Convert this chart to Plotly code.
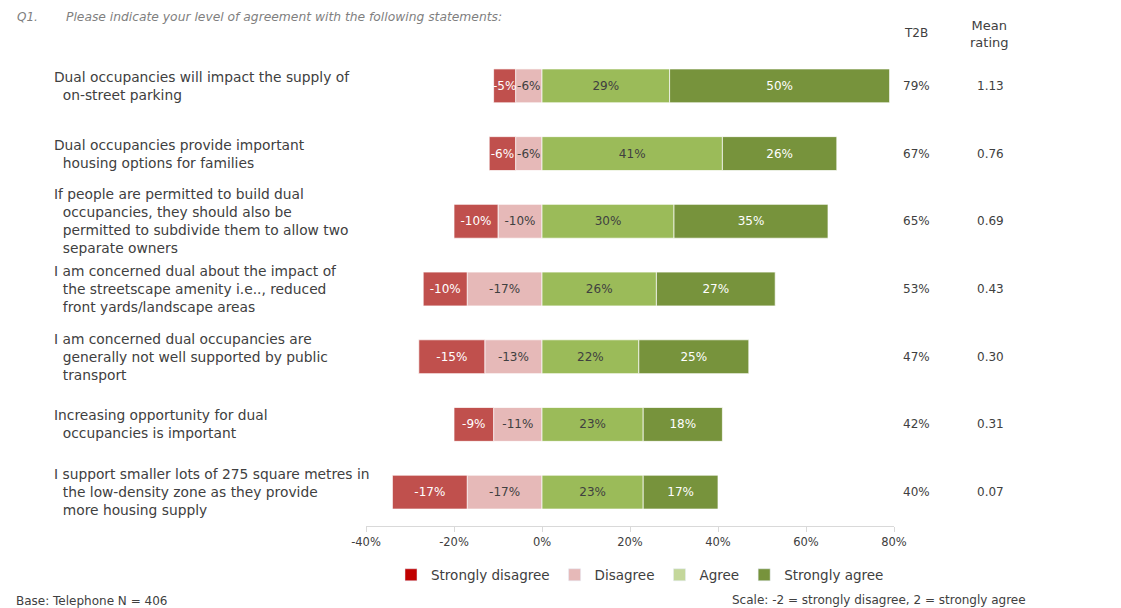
import plotly.graph_objects as go

statements = [
    "Dual occupancies will impact the supply of<br>\u00a0\u00a0on-street parking",
    "Dual occupancies provide important<br>\u00a0\u00a0housing options for families",
    "If people are permitted to build dual<br>\u00a0\u00a0occupancies, they should also be<br>\u00a0\u00a0permitted to subdivide them to allow two<br>\u00a0\u00a0separate owners",
    "I am concerned dual about the impact of<br>\u00a0\u00a0the streetscape amenity i.e.., reduced<br>\u00a0\u00a0front yards/landscape areas",
    "I am concerned dual occupancies are<br>\u00a0\u00a0generally not well supported by public<br>\u00a0\u00a0transport",
    "Increasing opportunity for dual<br>\u00a0\u00a0occupancies is important",
    "I support smaller lots of 275 square metres in<br>\u00a0\u00a0the low-density zone as they provide<br>\u00a0\u00a0more housing supply",
]
strongly_disagree = [-5, -6, -10, -10, -15, -9, -17]
disagree = [-6, -6, -10, -17, -13, -11, -17]
agree = [29, 41, 30, 26, 22, 23, 23]
strongly_agree = [50, 26, 35, 27, 25, 18, 17]
t2b = ["79%", "67%", "65%", "53%", "47%", "42%", "40%"]
mean_rating = ["1.13", "0.76", "0.69", "0.43", "0.30", "0.31", "0.07"]
x_ticks = [-40, -20, 0, 20, 40, 60, 80]

FONT = "DejaVu Sans"
TXT = "#404040"
ypos = list(range(len(statements)))

# page body has an 8px margin; figure is drawn offset by OFF
OFF = 8
FIG_W, FIG_H = 1121 - OFF, 608 - OFF
L, R = 366, 894          # plot area, in screen pixels
H_T, H_B = 52, 526


def px(xp):
    return (xp - L) / (R - L)


def py(yp):
    return (H_B - yp) / (H_B - H_T)


fig = go.Figure()


def add_bar(vals, color, tcolor, name):
    fig.add_trace(go.Bar(
        y=ypos, x=vals, orientation="h", name=name, showlegend=False,
        marker=dict(color=color, line=dict(color="rgba(255,255,255,0.7)", width=1)),
        width=0.5,
        text=[f"{v}%" for v in vals], textposition="inside", insidetextanchor="middle",
        textangle=0, constraintext="none",
        textfont=dict(family=FONT, size=12, color=tcolor), cliponaxis=False,
        hoverinfo="skip",
    ))


add_bar(disagree, "#E6B9B8", TXT, "Disagree")
add_bar(strongly_disagree, "#C0504D", "white", "Strongly disagree")
add_bar(agree, "#9BBB59", TXT, "Agree")
add_bar(strongly_agree, "#77933C", "white", "Strongly agree")

for name, col in [("Strongly disagree", "#C00000"), ("Disagree", "#E6B9B8"),
                  ("Agree", "#C4D79B"), ("Strongly agree", "#77933C")]:
    fig.add_trace(go.Bar(y=[None], x=[None], orientation="h", name=name,
                         marker=dict(color=col), showlegend=True))

annotations = []
for i, s in enumerate(statements):
    annotations.append(dict(x=px(52), xref="paper", xanchor="left", y=i, yref="y",
                            yanchor="middle", text=s, showarrow=False, align="left",
                            font=dict(family=FONT, size=13.8, color=TXT)))
    annotations.append(dict(x=px(916), y=i, yref="y", xref="paper", xanchor="center",
                            yanchor="middle", text=t2b[i], showarrow=False,
                            font=dict(family=FONT, size=12, color=TXT)))
    annotations.append(dict(x=px(990), y=i, yref="y", xref="paper", xanchor="center",
                            yanchor="middle", text=mean_rating[i], showarrow=False,
                            font=dict(family=FONT, size=12, color=TXT)))

annotations += [
    dict(x=px(15), y=py(17), xref="paper", yref="paper", xanchor="left", yanchor="middle",
         text="<i>Q1.</i>",
         showarrow=False, font=dict(family=FONT, size=12, color="#7F7F7F")),
    dict(x=px(64), y=py(17), xref="paper", yref="paper", xanchor="left", yanchor="middle",
         text="<i>Please indicate your level of agreement with the following statements:</i>",
         showarrow=False, font=dict(family=FONT, size=12.3, color="#7F7F7F")),
    dict(x=px(916), y=py(33), xref="paper", yref="paper", xanchor="center", yanchor="middle",
         text="T2B",
         showarrow=False, font=dict(family=FONT, size=12, color=TXT)),
    dict(x=px(989), y=py(34), xref="paper", yref="paper", xanchor="center", yanchor="middle",
         text="Mean<br>rating",
         showarrow=False, font=dict(family=FONT, size=13, color=TXT)),
    dict(x=px(14), y=py(601), xref="paper", yref="paper", xanchor="left", yanchor="middle",
         text="Base: Telephone N = 406",
         showarrow=False, font=dict(family=FONT, size=12, color=TXT)),
    dict(x=px(1028), y=py(600), xref="paper", yref="paper", xanchor="right", yanchor="middle",
         text="Scale: -2 = strongly disagree, 2 = strongly agree",
         showarrow=False, font=dict(family=FONT, size=12, color=TXT)),
]

fig.update_layout(
    width=FIG_W, height=FIG_H,
    margin=dict(l=L - OFF, r=1121 - R, t=H_T - OFF, b=608 - H_B, pad=0),
    barmode="relative",
    plot_bgcolor="white", paper_bgcolor="white",
    xaxis=dict(range=[-40, 80], tickvals=x_ticks, ticktext=[f"{v}%" for v in x_ticks],
               showgrid=False, zeroline=False, showline=True, linecolor="#D9D9D9",
               ticks="outside", tickcolor="#D9D9D9", ticklen=5,
               tickfont=dict(family=FONT, size=11.5, color=TXT)),
    yaxis=dict(range=[6.5, -0.5], showticklabels=False, showgrid=False,
               zeroline=False, showline=False),
    legend=dict(orientation="h", x=px(640), xanchor="center", y=py(575), yanchor="middle",
                font=dict(family=FONT, size=13.5, color=TXT), traceorder="normal",
                itemwidth=30),
    annotations=annotations,
    showlegend=True,
)

fig.write_html("out.html")
